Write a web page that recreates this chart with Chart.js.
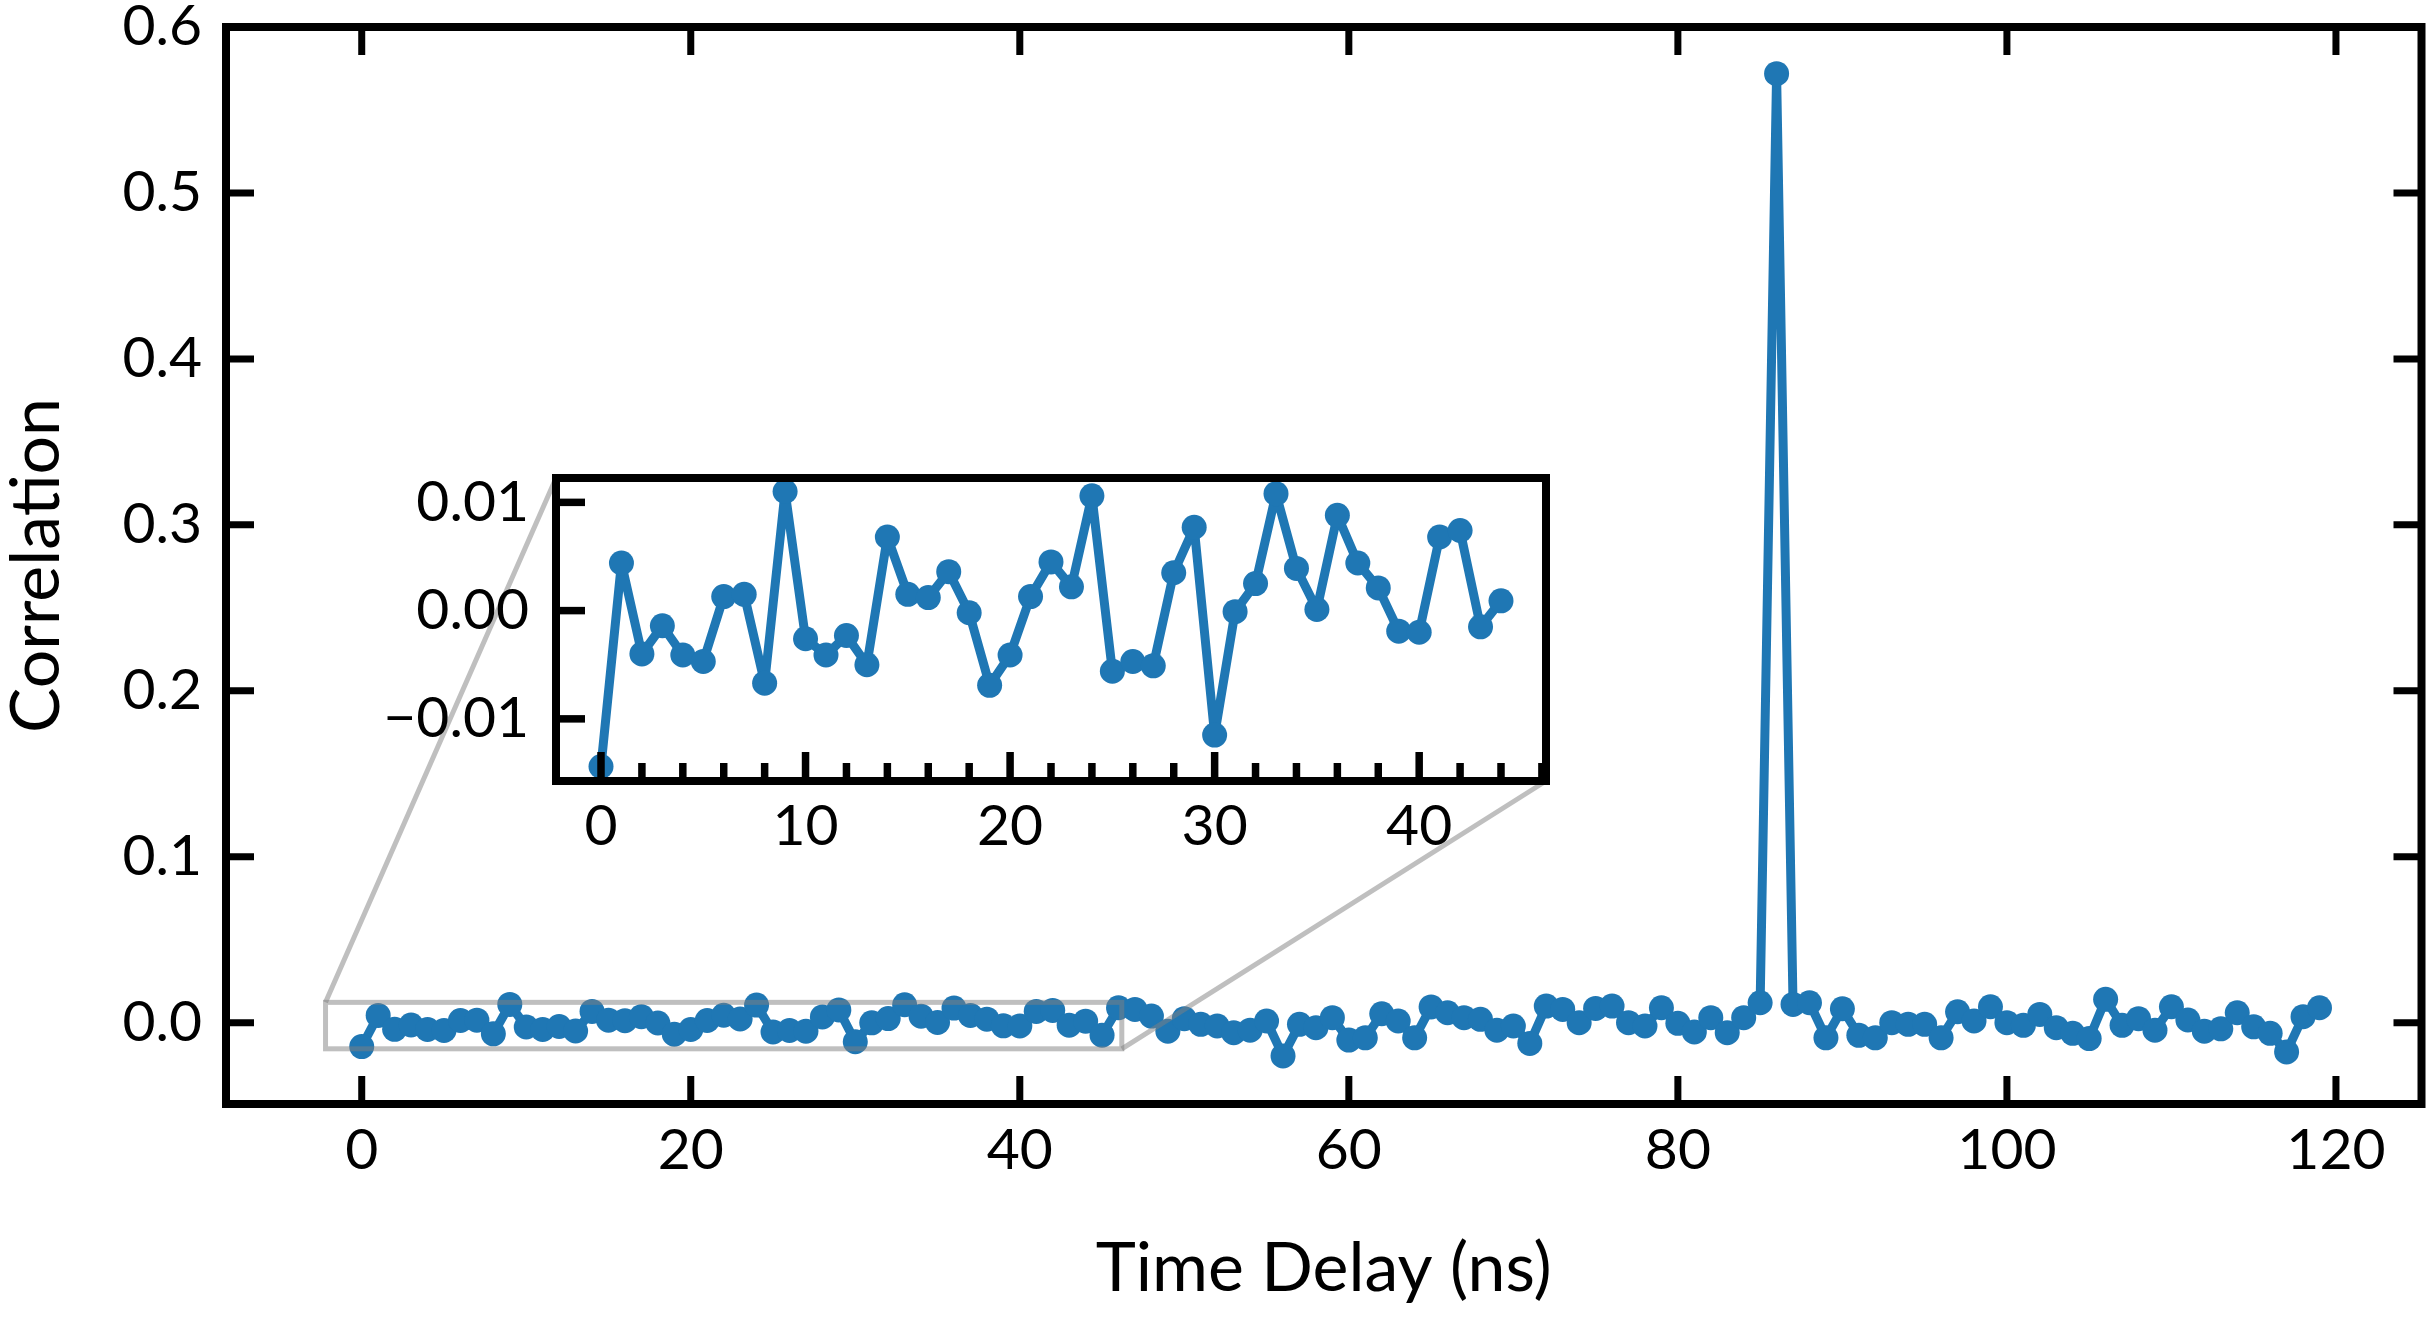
<!DOCTYPE html>
<html>
<head>
<meta charset="utf-8">
<script src="https://cdn.jsdelivr.net/npm/chart.js@4"></script>
<style>
  html, body { margin: 0; padding: 0; background: #fff; }
  #wrap { position: relative; width: 2434px; height: 1326px; }
  #main { position: absolute; left: 0; top: 0; }
  #inset { position: absolute; left: 360px; top: 440px; }
</style>
</head>
<body>
<div id="wrap">
  <canvas id="main" width="2434" height="1326"></canvas>
  <canvas id="inset" width="1220" height="440"></canvas>
</div>
<script>
// time delay (ns)
const delays = [
  0, 1, 2, 3, 4, 5, 6, 7, 8, 9, 10, 11, 12, 13, 14, 15, 16, 17, 18, 19,
  20, 21, 22, 23, 24, 25, 26, 27, 28, 29, 30, 31, 32, 33, 34, 35, 36, 37, 38, 39,
  40, 41, 42, 43, 44, 45, 46, 47, 48, 49, 50, 51, 52, 53, 54, 55, 56, 57, 58, 59,
  60, 61, 62, 63, 64, 65, 66, 67, 68, 69, 70, 71, 72, 73, 74, 75, 76, 77, 78, 79,
  80, 81, 82, 83, 84, 85, 86, 87, 88, 89, 90, 91, 92, 93, 94, 95, 96, 97, 98, 99,
  100, 101, 102, 103, 104, 105, 106, 107, 108, 109, 110, 111, 112, 113, 114, 115, 116, 117, 118, 119
];

// correlation
const correlation = [
  -0.0144, 0.0044, -0.0040, -0.0014, -0.0041, -0.0047, 0.0013, 0.0015, -0.0067, 0.0110,
  -0.0026, -0.0041, -0.0023, -0.0050, 0.0068, 0.0015, 0.0012, 0.0036, -0.0002, -0.0069,
  -0.0041, 0.0013, 0.0045, 0.0022, 0.0106, -0.0056, -0.0047, -0.0051, 0.0035, 0.0077,
  -0.0115, -0.0001, 0.0025, 0.0108, 0.0039, 0.0001, 0.0088, 0.0044, 0.0021, -0.0019,
  -0.0020, 0.0068, 0.0074, -0.0015, 0.0009, -0.0075, 0.0090, 0.0080, 0.0040, -0.0051,
  0.0024, -0.0010, -0.0020, -0.0060, -0.0045, 0.0010, -0.0200, -0.0010, -0.0030, 0.0030,
  -0.0105, -0.0091, 0.0054, 0.0010, -0.0091, 0.0095, 0.0060, 0.0030, 0.0020, -0.0045,
  -0.0020, -0.0125, 0.0100, 0.0080, 0.0000, 0.0086, 0.0100, 0.0000, -0.0020, 0.0090,
  -0.0004, -0.0056, 0.0030, -0.0060, 0.0030, 0.0120, 0.5719, 0.0110, 0.0120, -0.0091,
  0.0084, -0.0076, -0.0091, 0.0000, -0.0010, -0.0010, -0.0091, 0.0066, 0.0010, 0.0096,
  0.0000, -0.0016, 0.0050, -0.0030, -0.0064, -0.0096, 0.0141, -0.0016, 0.0024, -0.0045,
  0.0096, 0.0016, -0.0051, -0.0037, 0.0060, -0.0025, -0.0064, -0.0176, 0.0036, 0.0090
];

// the inset shows the first 45 delays
const insetCount = 45;

const mainXTicks = [0, 20, 40, 60, 80, 100, 120];
const mainYTicks = [0.0, 0.1, 0.2, 0.3, 0.4, 0.5, 0.6];
const insetXTicks = [0, 10, 20, 30, 40];
const insetXMinor = [2, 4, 6, 8, 12, 14, 16, 18, 22, 24, 26, 28, 32, 34, 36, 38, 42, 44, 46];
const insetYTicks = [-0.01, 0.0, 0.01];

const BLUE = '#1f77b4';
const FONT = 'Lato, "Noto Sans", sans-serif';
const ZOOM_GRAY = 'rgba(128,128,128,0.5)';

function points(xs, ys) {
  return xs.map((x, i) => ({ x: x, y: ys[i] }));
}

// fixed axis box size, no extra room for overhanging labels
function fixSize(prop, size) {
  return s => {
    s[prop] = size;
    s.paddingTop = 0; s.paddingBottom = 0;
    s.paddingLeft = 0; s.paddingRight = 0;
  };
}

// spines plus inward ticks, matplotlib style
function framePlugin(cfg) {
  return {
    id: 'frame_' + cfg.name,
    afterDatasetsDraw(chart) {
      const ctx = chart.ctx;
      const a = chart.chartArea;
      const sx = chart.scales.x, sy = chart.scales.y;
      ctx.save();
      ctx.strokeStyle = '#000';
      ctx.lineCap = 'butt';
      ctx.lineWidth = cfg.tickWidth;
      const xTick = (v, len) => {
        const px = sx.getPixelForValue(v);
        ctx.beginPath();
        ctx.moveTo(px, a.bottom); ctx.lineTo(px, a.bottom - len);
        if (cfg.mirror) { ctx.moveTo(px, a.top); ctx.lineTo(px, a.top + len); }
        ctx.stroke();
      };
      const yTick = (v, len) => {
        const py = sy.getPixelForValue(v);
        ctx.beginPath();
        ctx.moveTo(a.left, py); ctx.lineTo(a.left + len, py);
        if (cfg.mirror) { ctx.moveTo(a.right, py); ctx.lineTo(a.right - len, py); }
        ctx.stroke();
      };
      cfg.xMajor.forEach(v => xTick(v, cfg.majorLen));
      (cfg.xMinor || []).forEach(v => xTick(v, cfg.minorLen));
      cfg.yMajor.forEach(v => yTick(v, cfg.majorLen));
      ctx.lineWidth = cfg.spineWidth;
      ctx.lineJoin = 'miter';
      ctx.strokeRect(a.left, a.top, a.right - a.left, a.bottom - a.top);
      ctx.restore();
    }
  };
}

const whiteArea = {
  id: 'whiteArea',
  beforeDraw(chart) {
    const a = chart.chartArea;
    chart.ctx.save();
    chart.ctx.fillStyle = '#fff';
    chart.ctx.fillRect(a.left, a.top, a.right - a.left, a.bottom - a.top);
    chart.ctx.restore();
  }
};

const lineDataset = data => ({
  data: data,
  borderColor: BLUE,
  backgroundColor: BLUE,
  borderWidth: 9,
  borderJoinStyle: 'round',
  borderCapStyle: 'round',
  pointRadius: 12.5,
  pointHoverRadius: 12.5,
  pointBorderWidth: 0,
  pointBackgroundColor: BLUE,
  tension: 0
});

const tickFont = { family: FONT, size: 57 };

const insetChart = new Chart(document.getElementById('inset'), {
  type: 'line',
  data: { datasets: [lineDataset(points(delays.slice(0, insetCount), correlation.slice(0, insetCount)))] },
  options: {
    responsive: false,
    devicePixelRatio: 1,
    animation: false,
    events: [],
    layout: { padding: { top: 38, right: 34, left: 0, bottom: 0 } },
    plugins: { legend: { display: false }, tooltip: { enabled: false } },
    scales: {
      x: {
        type: 'linear', min: -2.2, max: 46.2,
        grid: { display: false, drawTicks: false }, border: { display: false },
        afterBuildTicks: s => { s.ticks = insetXTicks.map(v => ({ value: v })); },
        afterFit: fixSize('height', 99),
        ticks: { font: tickFont, color: '#000', padding: 11, maxRotation: 0, autoSkip: false }
      },
      y: {
        type: 'linear', min: -0.01574, max: 0.01225,
        grid: { display: false, drawTicks: false }, border: { display: false },
        afterBuildTicks: s => { s.ticks = insetYTicks.map(v => ({ value: v })); },
        afterFit: fixSize('width', 196),
        ticks: {
          font: tickFont, color: '#000', padding: 27, autoSkip: false,
          callback: v => v.toFixed(2).replace('-', '\u2212')
        }
      }
    }
  },
  plugins: [whiteArea, framePlugin({
    name: 'inset', mirror: false, tickWidth: 7.5, spineWidth: 8,
    majorLen: 29, minorLen: 18,
    xMajor: insetXTicks, xMinor: insetXMinor, yMajor: insetYTicks
  })]
});

// zoom rectangle on the main axes and connectors to the inset corners
const zoomIndicator = {
  id: 'zoomIndicator',
  afterDatasetsDraw(chart) {
    const ctx = chart.ctx;
    const sx = chart.scales.x, sy = chart.scales.y;
    const ix = insetChart.scales.x, iy = insetChart.scales.y;
    const x0 = sx.getPixelForValue(ix.min), x1 = sx.getPixelForValue(ix.max);
    const y0 = sy.getPixelForValue(iy.max), y1 = sy.getPixelForValue(iy.min);
    const c = insetChart.canvas;
    const ia = insetChart.chartArea;
    const offL = c.offsetLeft, offT = c.offsetTop;
    ctx.save();
    ctx.strokeStyle = ZOOM_GRAY;
    ctx.lineWidth = 5;
    ctx.strokeRect(x0, y0, x1 - x0, y1 - y0);
    ctx.beginPath();
    ctx.moveTo(x0, y0); ctx.lineTo(offL + ia.left, offT + ia.top);
    ctx.moveTo(x1, y1); ctx.lineTo(offL + ia.right, offT + ia.bottom);
    ctx.stroke();
    ctx.restore();
  }
};

const mainChart = new Chart(document.getElementById('main'), {
  type: 'line',
  data: { datasets: [lineDataset(points(delays, correlation))] },
  options: {
    responsive: false,
    devicePixelRatio: 1,
    animation: false,
    events: [],
    layout: { padding: { top: 27, right: 8, left: 0, bottom: 0 } },
    plugins: { legend: { display: false }, tooltip: { enabled: false } },
    scales: {
      x: {
        type: 'linear', min: -8.25, max: 125.2,
        grid: { display: false, drawTicks: false }, border: { display: false },
        afterBuildTicks: s => { s.ticks = mainXTicks.map(v => ({ value: v })); },
        afterFit: fixSize('height', 222),
        ticks: { font: tickFont, color: '#000', padding: 12, maxRotation: 0, autoSkip: false },
        title: {
          display: true, text: 'Time Delay (ns)', color: '#000',
          font: { family: FONT, size: 68, lineHeight: 1 }, padding: { top: 0, bottom: 23 }
        }
      },
      y: {
        type: 'linear', min: -0.049, max: 0.6,
        grid: { display: false, drawTicks: false }, border: { display: false },
        afterBuildTicks: s => { s.ticks = mainYTicks.map(v => ({ value: v })); },
        afterFit: fixSize('width', 226),
        ticks: { font: tickFont, color: '#000', padding: 24, autoSkip: false, callback: v => v.toFixed(1) },
        title: {
          display: true, text: 'Correlation', color: '#000',
          font: { family: FONT, size: 68, lineHeight: 1 }, padding: { top: 3, bottom: 0 }
        }
      }
    }
  },
  plugins: [zoomIndicator, framePlugin({
    name: 'main', mirror: true, tickWidth: 7, spineWidth: 8,
    majorLen: 28, xMajor: mainXTicks, yMajor: mainYTicks
  })]
});
</script>
</body>
</html>
